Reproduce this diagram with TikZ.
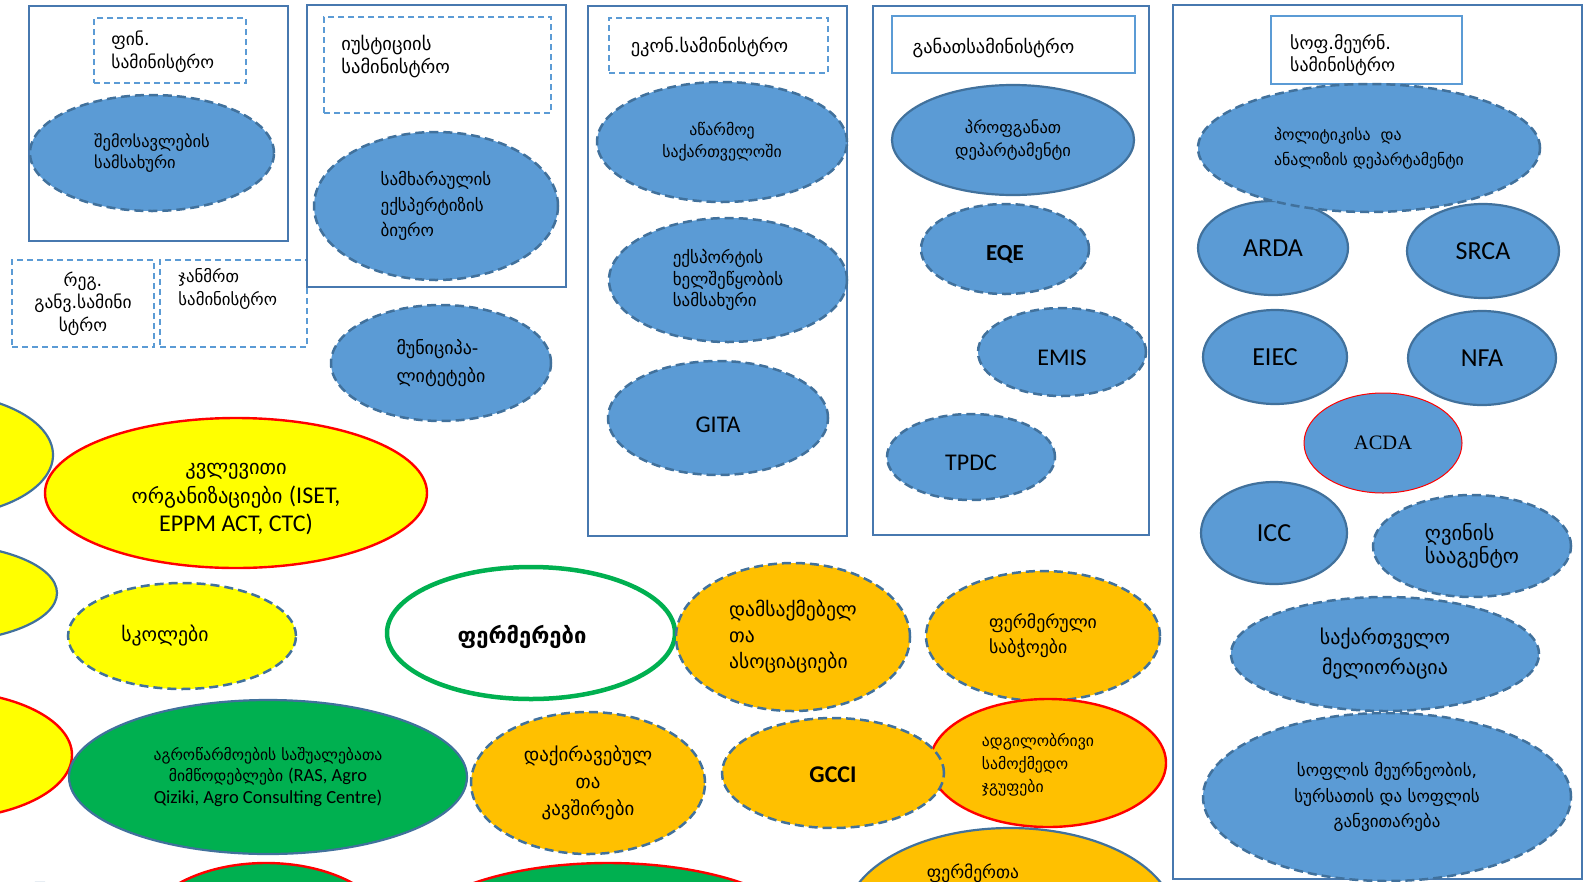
\documentclass[tikz,border=0pt]{standalone}
\usepackage{fontspec}
\setmainfont{DejaVu Sans}
\newfontfamily\lat{Carlito}
\newfontfamily\tnr{Liberation Serif}
\usetikzlibrary{shapes.geometric}
\definecolor{fillblue}{RGB}{91,155,213}
\definecolor{edgeblue}{RGB}{65,113,156}
\definecolor{boxblue}{RGB}{71,120,175}
\definecolor{dashblue}{RGB}{91,155,213}
\definecolor{gold}{RGB}{255,192,0}
\definecolor{leaf}{RGB}{0,176,80}
\definecolor{ylw}{RGB}{255,255,0}
\definecolor{redline}{RGB}{255,0,0}
\newcommand\fs[2]{\fontsize{#1}{#2}\selectfont}
\begin{document}
\begin{tikzpicture}[x=1pt,y=-1pt,
 outerbox/.style={rectangle,draw=boxblue,line width=2.2pt,fill=white,inner sep=0pt},
 dashbox/.style={rectangle,draw=dashblue,line width=1.5pt,dash pattern=on 6pt off 4pt,fill=white,inner sep=0pt},
 solidbox/.style={rectangle,draw=dashblue,line width=2pt,fill=white,inner sep=0pt},
 sz/.style 2 args={minimum width=2*#1,minimum height=2*#2},
 ell/.style={ellipse,inner sep=0pt,line width=2.2pt},
 dsh/.style={line width=2.5pt,dash pattern=on 9pt off 5pt},
 bluedash/.style={ell,fill=fillblue,draw=edgeblue,dsh},
 bluesolid/.style={ell,fill=fillblue,draw=edgeblue},
 ylwred/.style={ell,fill=ylw,draw=redline,line width=2.4pt},
 ylwblue/.style={ell,fill=ylw,draw=edgeblue},
 ylwdash/.style={ell,fill=ylw,draw=edgeblue,dsh},
 golddash/.style={ell,fill=gold,draw=edgeblue,dsh},
 goldred/.style={ell,fill=gold,draw=redline,line width=2.4pt},
 goldblue/.style={ell,fill=gold,draw=edgeblue},
 greenblue/.style={ell,fill=leaf,draw=edgeblue},
 greenred/.style={ell,fill=leaf,draw=redline,line width=2.4pt},
 latbig/.style={font=\lat\fs{24}{28}},
]
\useasboundingbox (0,0) rectangle (1589,881);
\clip (0,0) rectangle (1589,881);

% ---------- ministry boxes ----------
\node[outerbox,minimum width=259,minimum height=235] (finbox) at (158.5,123.5) {};
\node[dashbox,minimum width=152,minimum height=65,
  label={[anchor=north west,align=left,inner sep=0pt,font=\fs{17.5}{23},xshift=18pt,yshift=-13pt]north west:ფინ.\\სამინისტრო}] (fin) at (170,50.5) {};

\node[dashbox,minimum width=147,minimum height=87,
  label={[anchor=north west,align=left,inner sep=0pt,font=\fs{16.8}{23},xshift=19pt,yshift=-9pt]north west:ჯანმრთ\\სამინისტრო}] (janm) at (233.5,303.5) {};
\node[dashbox,minimum width=142,minimum height=87,align=center,font=\fs{17.5}{22.5}] (reg) at (83,303.5) {რეგ.\\განვ.სამინი\\სტრო};

\node[outerbox,minimum width=259,minimum height=282] (jusbox) at (436.5,146) {};
\node[dashbox,minimum width=227,minimum height=96,
  label={[anchor=north west,align=left,inner sep=0pt,font=\fs{18.5}{23},xshift=18pt,yshift=-19pt]north west:იუსტიციის\\სამინისტრო}] (jus) at (437.5,65) {};

\node[outerbox,minimum width=259,minimum height=530] (ecobox) at (717.5,271) {};
\node[dashbox,minimum width=219,minimum height=55,
  label={[inner sep=0pt,font=\fs{18.5}{22},xshift=-9pt,yshift=-1pt]center:ეკონ.სამინისტრო}] (eco) at (718.5,45.5) {};

\node[outerbox,minimum width=276,minimum height=529] (edubox) at (1011,270.5) {};
\node[solidbox,minimum width=243,minimum height=57,
  label={[inner sep=0pt,font=\fs{18.4}{22},xshift=-20pt,yshift=-3pt]center:განათსამინისტრო}] (edu) at (1013.5,44.5) {};

\node[outerbox,minimum width=409,minimum height=874] (agrbox) at (1377.5,442) {};
\node[solidbox,minimum width=191,minimum height=68,
  label={[anchor=north west,align=left,inner sep=0pt,font=\fs{17.9}{22},xshift=20pt,yshift=-19pt]north west:სოფ.მეურნ.\\სამინისტრო}] (agr) at (1366.5,50) {};

% ---------- blue agencies ----------
\node[bluedash,sz={122}{58},align=left,font=\fs{16.5}{21}] (income) at (152,153) {შემოსავლების\\სამსახური};
\node[bluedash,sz={122}{74},align=left,font=\fs{17}{25.5}] (samkh) at (436,206) {სამხარაულის\\ექსპერტიზის\\ბიურო};
\node[bluedash,sz={110}{58},align=left,font=\fs{18}{28}] (munic) at (441,363) {მუნიციპა-\\ლიტეტები};

\node[bluedash,sz={125}{60},align=center,font=\fs{15.8}{22}] (prod) at (722,142) {აწარმოე\\საქართველოში};
\node[bluedash,sz={119}{62},align=left,font=\fs{17}{21.5}] (export) at (728,280) {ექსპორტის\\ხელშეწყობის\\სამსახური};
\node[bluedash,sz={110}{57},latbig,
  label={[inner sep=0pt,latbig,yshift=-7pt]center:GITA}] (gita) at (718,418) {};

\node[bluesolid,sz={121}{55},align=center,font=\fs{16.5}{23}] (prof) at (1013,140) {პროფგანათ\\დეპარტამენტი};
\node[bluedash,sz={84}{45},
  label={[inner sep=0pt,font=\lat\bfseries\fs{23}{28},yshift=-5pt]center:EQE}] (eqe) at (1005,249) {};
\node[bluedash,sz={84}{44},
  label={[inner sep=0pt,latbig,yshift=-6pt]center:EMIS}] (emis) at (1062,352) {};
\node[bluedash,sz={84}{43},
  label={[inner sep=0pt,latbig,yshift=-6pt]center:TPDC}] (tpdc) at (971,457) {};

\node[bluesolid,sz={75}{47},font=\lat\fs{26}{30}] (arda) at (1273,248) {ARDA};
\node[bluesolid,sz={76}{47},font=\lat\fs{26}{30}] (srca) at (1483,251) {SRCA};
\node[bluedash,sz={171}{64},align=left,font=\fs{15.8}{25}] (policy) at (1369,148) {პოლიტიკისა\ \ და\\ანალიზის დეპარტამენტი};
\node[bluesolid,sz={72}{47},font=\lat\fs{26}{30}] (eiec) at (1275,357) {EIEC};
\node[bluesolid,sz={74}{47},font=\lat\fs{26}{30}] (nfa) at (1482,358) {NFA};
\node[ell,fill=fillblue,draw=redline,line width=1pt,sz={79}{50},font=\tnr\fs{20.5}{24}] (acda) at (1383,443) {ACDA};
\node[bluesolid,sz={73}{51},font=\lat\fs{26}{30}] (icc) at (1274,533) {ICC};
\node[bluedash,sz={99}{51},align=left,font=\fs{20.5}{23.5}] (wine) at (1472,546) {ღვინის\\სააგენტო};
\node[bluedash,sz={154}{57},align=center,font=\fs{20}{30}] (melior) at (1385,654) {საქართველო\\მელიორაცია};
\node[bluedash,sz={184}{84},align=center,font=\fs{17}{25.5}] (rural) at (1387,797) {სოფლის მეურნეობის,\\სურსათის და სოფლის\\განვითარება};

% ---------- left partial ellipses ----------
\node[ylwblue,sz={120}{62}] (leftA) at (-67,455) {};
\node[ylwblue,sz={120}{49}] (leftB) at (-63,593) {};
\node[ylwred,sz={130}{64}] (leftC) at (-58,755) {};
\node[ylwblue,sz={110}{72}] (leftD) at (40,955) {};

% ---------- stakeholders ----------
\node[ylwred,sz={191}{75},
  label={[inner sep=0pt,align=center,font=\fs{20.5}{28.5},yshift=-6pt]center:კვლევითი\\ორგანიზაციები {\lat\fs{24}{28.5}(ISET,}\\{\lat\fs{24}{28.5}EPPM ACT, CTC)}}] (research) at (236,493) {};
\node[ylwdash,sz={114}{53},
  label={[inner sep=0pt,font=\fs{19.7}{24},xshift=-17pt]center:სკოლები}] (schools) at (182,636) {};
\node[ell,fill=white,draw=leaf,line width=4.5pt,sz={144}{66},
  label={[inner sep=0pt,font=\bfseries\fs{22}{26},xshift=-9pt,yshift=-4pt]center:ფერმერები}] (farmers) at (531,633) {};
\node[greenblue,sz={199}{77},align=center,font=\fs{15.6}{21.5}] (agroprov) at (268,777) {აგროწარმოების საშუალებათა\\მიმწოდებლები {\lat\fs{18.5}{21.5}(RAS, Agro}\\{\lat\fs{18.5}{21.5}Qiziki, Agro Consulting Centre)}};
\node[golddash,sz={117}{71},align=center,font=\fs{18.9}{27}] (employees) at (588,783) {დაქირავებულ\\თა\\კავშირები};
\node[golddash,sz={117}{74},align=left,font=\fs{19.6}{26}] (employers) at (793,637) {დამსაქმებელ\\თა\\ასოციაციები};
\node[golddash,sz={117}{65},align=left,font=\fs{17.8}{25}] (fcouncil) at (1043,636) {ფერმერული\\საბჭოები};
\node[goldred,sz={118}{64},
  label={[inner sep=0pt,align=left,font=\fs{15.7}{23},xshift=-10pt,yshift=-2pt]center:ადგილობრივი\\სამოქმედო\\ჯგუფები}] (lag) at (1048,763) {};
\node[golddash,sz={111}{55},
  label={[inner sep=0pt,font=\lat\bfseries\fs{24}{28},yshift=-2pt]center:GCCI}] (gcci) at (833,773) {};
\node[goldblue,sz={165}{92},
  label={[inner sep=0pt,font=\fs{17.5}{24},xshift=-37pt,yshift=47pt]center:ფერმერთა}] (fermerta) at (1010,920) {};
\node[greenred,sz={125}{72}] (bottomA) at (266,935) {};
\node[greenred,sz={205}{82}] (bottomB) at (608,945) {};
\end{tikzpicture}
\end{document}
